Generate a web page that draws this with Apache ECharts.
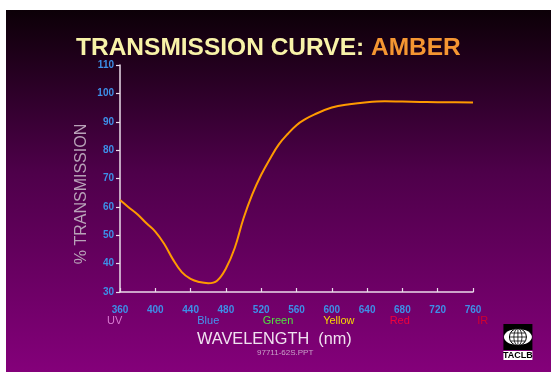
<!DOCTYPE html>
<html><head><meta charset="utf-8">
<script src="https://cdn.jsdelivr.net/npm/echarts@6/dist/echarts.min.js"></script>
<style>html,body{margin:0;padding:0;background:#fff}#c{width:551px;height:372px}</style>
</head><body><div id="c"></div>
<script>
const wavelengths = [360, 370, 380, 390, 400, 410, 420, 430, 440, 450, 460, 470, 480, 490, 500, 510, 520, 530, 540, 550, 560, 570, 580, 600, 620, 640, 660, 680, 700, 720, 740, 760];
const transmission = [62.4, 59.8, 57.3, 54.2, 51.3, 47, 41.5, 37, 34.6, 33.5, 33.1, 34, 38.3, 45.5, 56, 64.5, 71.3, 77, 82, 85.7, 88.8, 90.9, 92.5, 95, 96.2, 96.9, 97.2, 97.1, 97.0, 96.9, 96.9, 96.8];
const xTicks = [360, 400, 440, 480, 520, 560, 600, 640, 680, 720, 760];
const yTicks = [30, 40, 50, 60, 70, 80, 90, 100, 110];
const bandNames = ['UV', 'Blue', 'Green', 'Yellow', 'Red', 'IR'];
const bandCenters = [354, 460, 539, 608, 677, 771];
const bandColors = ['#d878d0', '#4494f0', '#50e040', '#f8d800', '#f0003c', '#d00030'];

const chart = echarts.init(document.getElementById('c'));
const font = 'Liberation Sans, Arial, sans-serif';
const base = {
  backgroundColor: '#ffffff',
  animation: false,
  grid: { left: 120, right: 78, top: 65, bottom: 80 },
  title: {
    left: 71, top: 31,
    text: '{a|TRANSMISSION CURVE: }{b|AMBER}',
    textStyle: {
      rich: {
        a: { color: '#f8f2a8', fontSize: 24.5, fontWeight: 'bold', fontFamily: font, textShadowColor: '#000', textShadowOffsetX: 2, textShadowOffsetY: 2, textShadowBlur: 0 },
        b: { color: '#f59632', fontSize: 24.5, fontWeight: 'bold', fontFamily: font, textShadowColor: '#000', textShadowOffsetX: 2, textShadowOffsetY: 2, textShadowBlur: 0 }
      }
    }
  },
  xAxis: {
    type: 'value', min: xTicks[0], max: xTicks[xTicks.length - 1], interval: 40,
    axisLine: { lineStyle: { color: '#eadcea', width: 1.5 } },
    axisTick: { inside: true, length: 4, lineStyle: { color: '#eadcea', width: 1.2 } },
    axisLabel: { color: '#3d8fe8', fontWeight: 'bold', fontSize: 10, fontFamily: font, margin: 13 },
    splitLine: { show: false }
  },
  yAxis: {
    type: 'value', min: yTicks[0], max: yTicks[yTicks.length - 1], interval: 10,
    axisLine: { lineStyle: { color: '#eadcea', width: 1.5 } },
    axisTick: { length: 4, lineStyle: { color: '#eadcea', width: 1.2 } },
    axisLabel: { color: v => (v === 110 ? '#000000' : '#3d8fe8'), fontWeight: 'bold', fontSize: 10, fontFamily: font, margin: 6 },
    splitLine: { show: false }
  },
  series: [
    {
      type: 'line', smooth: 0.4, symbol: 'none',
      data: wavelengths.map((w, i) => [w, transmission[i]]),
      lineStyle: { color: '#ff9a00', width: 2 }
    }
  ]
};
chart.setOption(base);

const bandGraphics = bandNames.map((n, i) => {
  const p = chart.convertToPixel({ gridIndex: 0 }, [bandCenters[i], 30]);
  return { type: 'text', x: p[0], y: p[1] + 29, style: { text: n, fill: bandColors[i], font: '11px ' + font, align: 'center', verticalAlign: 'middle' } };
});

chart.setOption({
  graphic: [
    { type: 'rect', z: -10, silent: true, shape: { x: 6, y: 10, width: 545, height: 362 },
      style: { fill: new echarts.graphic.LinearGradient(0, 0, 0, 1, [
        { offset: 0, color: '#0c0007' }, { offset: 0.45, color: '#4e004a' }, { offset: 1, color: '#84007a' }]) } },
    { type: 'text', x: 82, y: 194, rotation: Math.PI / 2, style: { text: '% TRANSMISSION', fill: '#b8a2b8', font: '16px ' + font, align: 'center', verticalAlign: 'middle' } },
    { type: 'text', left: 197, top: 332, style: { text: 'WAVELENGTH  (nm)', fill: '#f0e2f0', font: '16.3px ' + font } },
    { type: 'text', left: 257, top: 349, style: { text: '97711-62S.PPT', fill: '#c8a0c8', font: '8px ' + font } },
    { type: 'group', left: 503, top: 324, children: [
      { type: 'rect', shape: { x: 0, y: 0, width: 29, height: 26 }, style: { fill: '#000' } },
      { type: 'ellipse', shape: { cx: 14.5, cy: 13, rx: 14, ry: 8 }, style: { fill: '#fff' } },
      { type: 'circle', shape: { cx: 14.5, cy: 13, r: 8.5 }, style: { fill: '#fff', stroke: '#000', lineWidth: 1 } },
      { type: 'line', shape: { x1: 6, y1: 13, x2: 23, y2: 13 }, style: { stroke: '#000', lineWidth: 0.8 } },
      { type: 'line', shape: { x1: 7, y1: 9, x2: 22, y2: 9 }, style: { stroke: '#000', lineWidth: 0.8 } },
      { type: 'line', shape: { x1: 7, y1: 17, x2: 22, y2: 17 }, style: { stroke: '#000', lineWidth: 0.8 } },
      { type: 'line', shape: { x1: 14.5, y1: 4.5, x2: 14.5, y2: 21.5 }, style: { stroke: '#000', lineWidth: 0.8 } },
      { type: 'ellipse', shape: { cx: 14.5, cy: 13, rx: 4, ry: 8.5 }, style: { fill: 'none', stroke: '#000', lineWidth: 0.8 } },
      { type: 'rect', shape: { x: 0, y: 27, width: 29, height: 9 }, style: { fill: '#fff' } },
      { type: 'text', x: 14.5, y: 27, style: { text: 'TACLB', fill: '#000', font: 'bold 9px ' + font, align: 'center' } }
    ] }
  ].concat(bandGraphics)
});
</script></body></html>
